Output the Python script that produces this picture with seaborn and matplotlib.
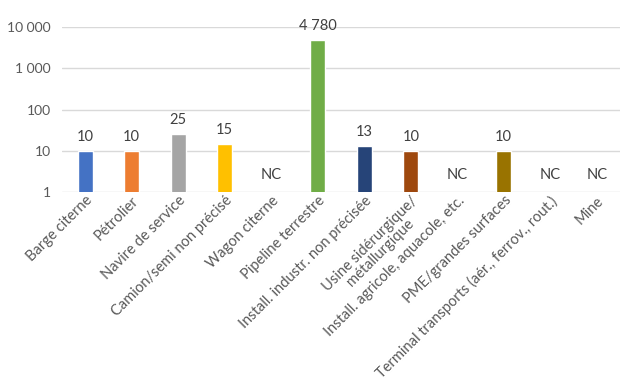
import matplotlib
matplotlib.use("Agg")
import matplotlib.pyplot as plt
import seaborn as sns
import pandas as pd
import numpy as np
from matplotlib.ticker import FixedLocator, FuncFormatter, NullLocator

categories = ["Barge citerne", "Pétrolier", "Navire de service", "Camion/semi non précisé",
              "Wagon citerne", "Pipeline terrestre", "Install. industr. non précisée",
              "Usine sidérurgique/\nmétallurgique", "Install. agricole, aquacole, etc.",
              "PME/grandes surfaces", "Terminal transports (aér., ferrov., rout.)", "Mine"]
values = [10, 10, 25, 15, None, 4780, 13, 10, None, 10, None, None]
colors = ["#4472C4", "#ED7D31", "#A5A5A5", "#FFC000", "#5B9BD5", "#70AD47",
          "#264478", "#9E480E", "#636363", "#997300", "#255E91", "#43682B"]
y_ticks = [1, 10, 100, 1000, 10000]

sns.set_theme(style="white")
plt.rcParams["font.family"] = ["Lato", "DejaVu Sans"]

df = pd.DataFrame({"cat": categories,
                   "val": [np.nan if v is None else v for v in values]})

fig = plt.figure(figsize=(6.2, 3.88), dpi=100)
ax = fig.add_axes([0.1, 0.505, 0.9, 0.425])
ax.set_yscale("log")
sns.barplot(data=df, x="cat", y="val", hue="cat", palette=colors, legend=False,
            width=0.32, ax=ax, saturation=1, zorder=3)
ax.set_ylim(1, 10000)
ax.set_xlim(-0.5, len(categories) - 0.5)
ax.yaxis.set_major_locator(FixedLocator(y_ticks))
ax.yaxis.set_minor_locator(NullLocator())
ax.yaxis.set_major_formatter(FuncFormatter(lambda v, p: f"{int(round(v)):,}".replace(",", " ")))
ax.grid(axis="y", color="#D9D9D9", linewidth=1, zorder=0)
for s in ax.spines.values():
    s.set_visible(False)
ax.tick_params(axis="y", length=0, labelsize=10, labelcolor="#595959", pad=8)
ax.tick_params(axis="x", length=0, labelsize=10.5, labelcolor="#595959", pad=1)
ax.set_xlabel("")
ax.set_ylabel("")
ax.set_xticks(range(len(categories)))
ax.set_xticklabels(categories, rotation=45, ha="right", rotation_mode="anchor",
                   multialignment="center", linespacing=0.95)

for i, v in enumerate(values):
    if v is None:
        ax.text(i, 2.6, "NC", ha="center", va="center", fontsize=10.5, color="#404040")
    else:
        ax.annotate(f"{v:,}".replace(",", " "), (i, v), xytext=(0, 5),
                    textcoords="offset points", ha="center", va="bottom",
                    fontsize=10.5, color="#404040")

fig.savefig("out.png", dpi=100)
